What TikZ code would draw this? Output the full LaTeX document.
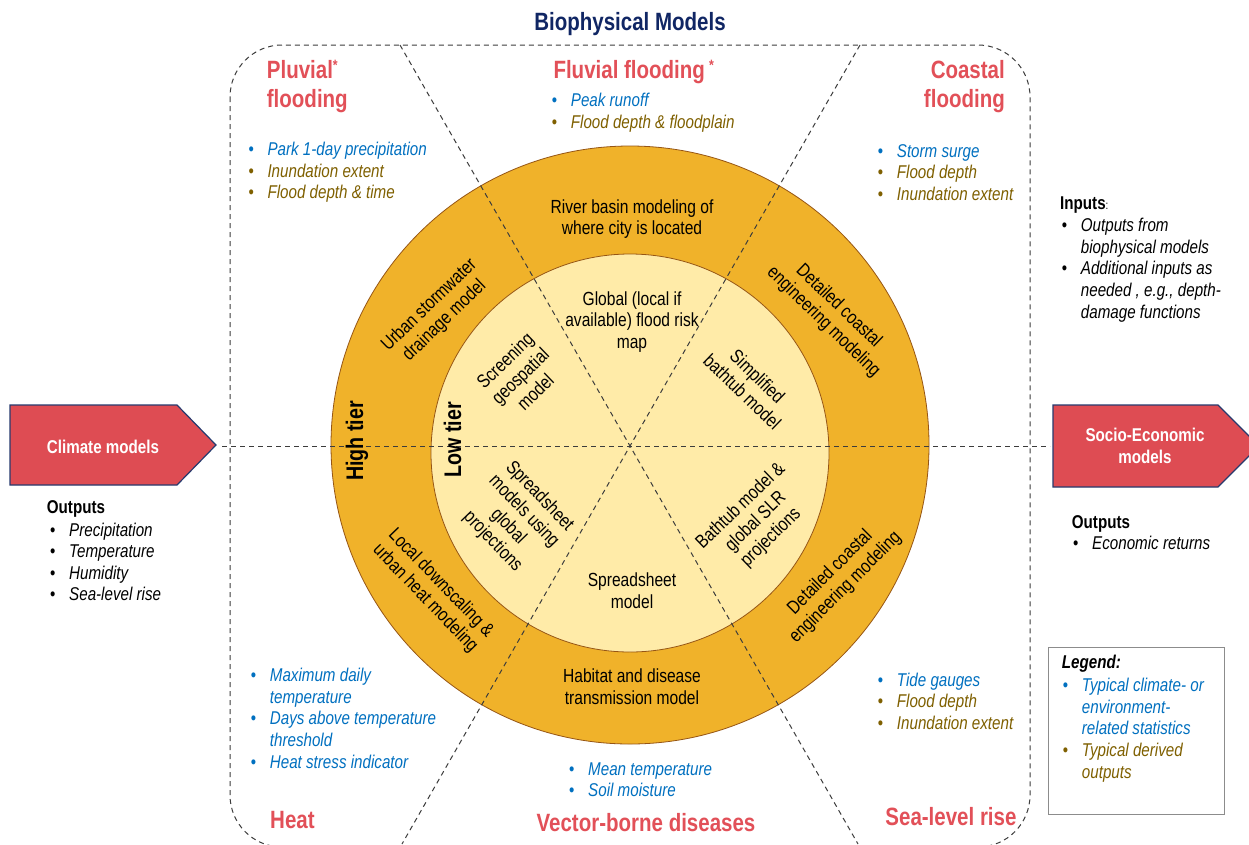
\documentclass[tikz,border=0pt]{standalone}
\usepackage{fontspec}
\setmainfont{Liberation Sans}[FakeStretch=0.82]
\definecolor{navyt}{RGB}{16,38,100}
\definecolor{redt}{RGB}{226,80,88}
\definecolor{redf}{RGB}{222,76,83}
\definecolor{navyb}{RGB}{38,58,110}
\definecolor{bluet}{RGB}{0,112,192}
\definecolor{olivet}{RGB}{127,96,0}
\definecolor{orng}{RGB}{240,178,42}
\definecolor{lite}{RGB}{255,235,168}
\definecolor{brwn}{RGB}{150,85,20}
\definecolor{dgray}{RGB}{60,60,60}
\definecolor{lgray}{RGB}{140,140,140}
\newcommand\lbu[2]{\textcolor{#1}{\textbullet}&\textcolor{#1}{\itshape #2}}
\newcommand\lct[2]{&\textcolor{#1}{\itshape #2}}
\newcommand\blst[1]{\begin{tabular}[t]{@{}p{19pt}@{}l@{}}#1\end{tabular}}
\begin{document}
\begin{tikzpicture}[x=1pt,y=-1pt,
  dashln/.style={draw=dgray, line width=1pt, dash pattern=on 5pt off 4pt},
  ttl/.style={font=\fontsize{25}{28}\selectfont\bfseries, text=redt, inner sep=0pt},
  ctext/.style={font=\fontsize{19}{21.7}\selectfont, align=center, inner sep=0pt},
  lst/.style={anchor=base west, inner sep=0pt, font=\fontsize{18.5}{21.6}\selectfont},
  hdr/.style={anchor=base west, inner sep=0pt, font=\fontsize{18.5}{21.6}\selectfont\bfseries},
  arr/.style={fill=redf, draw=navyb, line width=1.2pt},
  tier/.style={font=\fontsize{24}{26}\selectfont\bfseries, rotate=90, inner sep=0pt},
]
\useasboundingbox (0,0) rectangle (1249,844);
\fill[white] (0,0) rectangle (1249,844);

% dashed frame
\draw[dashln, rounded corners=52pt] (230,45) rectangle (1030,847);

% circles
\node[circle, minimum size=598pt, inner sep=0pt, fill=orng, draw=brwn, line width=0.8pt] (outer) at (630,445) {};
\node[circle, minimum size=398pt, inner sep=0pt, fill=lite, draw=brwn, line width=0.8pt] (inner) at (630,453) {};

% dashed dividers
\coordinate (cx) at (630,446);
\coordinate (dTL) at (400,45);
\coordinate (dTR) at (860,45);
\coordinate (dBL) at (402,844);
\coordinate (dBR) at (858,844);
\coordinate (hL) at (222,446);
\coordinate (hR) at (1050,446);
\draw[dashln] (dTL) -- (cx) -- (dBR);
\draw[dashln] (dTR) -- (cx) -- (dBL);
\draw[dashln] (hL) -- (cx) -- (hR);

% title
\node[font=\fontsize{25}{28}\selectfont\bfseries, text=navyt, inner sep=0pt, anchor=base] (title) at (630,30) {Biophysical Models};

% section titles
\node[ttl, anchor=base west] (pluv1) at (266.7,78.3) {Pluvial\raisebox{8pt}{\fontsize{15}{15}\selectfont *}};
\node[ttl, anchor=base west] (pluv2) at (266.7,107.5) {flooding};
\node[ttl, anchor=base west] (fluv) at (553.3,78.3) {Fluvial flooding\,\raisebox{8pt}{\fontsize{15}{15}\selectfont *}};
\node[ttl, anchor=base east] (coast1) at (1005,78.3) {Coastal};
\node[ttl, anchor=base east] (coast2) at (1005,107.5) {flooding};
\node[ttl, anchor=base west] (heat) at (270,828.3) {Heat};
\node[ttl, anchor=base] (vector) at (646,831.7) {Vector-borne diseases};
\node[ttl, anchor=base east] (slr) at (1016.7,825) {Sea-level rise};

% bullet lists
\node[lst] (lpluv) at (248.3,155.5) {\blst{\lbu{bluet}{Park 1-day precipitation}\\ \lbu{olivet}{Inundation extent}\\ \lbu{olivet}{Flood depth \& time}}};
\node[lst] (lfluv) at (551.7,106.7) {\blst{\lbu{bluet}{Peak runoff}\\ \lbu{olivet}{Flood depth \& floodplain}}};
\node[lst] (lcoast) at (877.7,157) {\blst{\lbu{bluet}{Storm surge}\\ \lbu{olivet}{Flood depth}\\ \lbu{olivet}{Inundation extent}}};
\node[lst] (lheat) at (250.7,681.7) {\blst{\lbu{bluet}{Maximum daily}\\ \lct{bluet}{temperature}\\ \lbu{bluet}{Days above temperature}\\ \lct{bluet}{threshold}\\ \lbu{bluet}{Heat stress indicator}}};
\node[lst] (lvec) at (569,775) {\blst{\lbu{bluet}{Mean temperature}\\ \lbu{bluet}{Soil moisture}}};
\node[lst] (lslr) at (877.7,686) {\blst{\lbu{bluet}{Tide gauges}\\ \lbu{olivet}{Flood depth}\\ \lbu{olivet}{Inundation extent}}};

% ring texts
\node[ctext] (river) at (632,219) {River basin modeling of\\where city is located};
\node[ctext, rotate=44] (urban) at (437,313) {Urban stormwater\\drainage model};
\node[ctext, rotate=-44] (detU) at (831,314) {Detailed coastal\\engineering modeling};
\node[ctext, rotate=-46] (local) at (433,591) {Local downscaling \&\\urban heat modeling};
\node[ctext, rotate=45] (detL) at (838,580) {Detailed coastal\\engineering modeling};
\node[ctext] (habitat) at (632,687) {Habitat and disease\\transmission model};
\node[tier] (high) at (357,441) {High tier};

% inner texts
\node[ctext] (global) at (632,322) {Global (local if\\available) flood risk\\map};
\node[ctext, rotate=44] (screen) at (520,376) {Screening\\geospatial\\model};
\node[ctext, rotate=-44] (simpl) at (750,384) {Simplified\\bathtub model};
\node[ctext, rotate=-46] (sprd) at (516,519) {Spreadsheet\\models using\\global\\projections};
\node[ctext, rotate=44] (bath) at (756,522) {Bathtub model \&\\global SLR\\projections};
\node[ctext] (sprd2) at (632,591) {Spreadsheet\\model};
\node[tier] (low) at (452.5,440) {Low tier};

% climate arrow
\coordinate (ca1) at (10,405);
\coordinate (ca2) at (177,405);
\coordinate (ca3) at (216,445);
\coordinate (ca4) at (177,485);
\coordinate (ca5) at (10,485);
\draw[arr] (ca1) -- (ca2) -- (ca3) -- (ca4) -- (ca5) -- cycle;
\node[font=\fontsize{18.5}{21}\selectfont\bfseries, text=white, inner sep=0pt] (clim) at (103,446.5) {Climate models};
\node[hdr] (cout) at (46.7,513) {Outputs};
\node[lst] (lclim) at (50,536) {\blst{\lbu{black}{Precipitation}\\ \lbu{black}{Temperature}\\ \lbu{black}{Humidity}\\ \lbu{black}{Sea-level rise}}};

% socio-economic arrow
\coordinate (sa1) at (1053,405);
\coordinate (sa2) at (1218,405);
\coordinate (sa3) at (1259,446);
\coordinate (sa4) at (1218,487);
\coordinate (sa5) at (1053,487);
\draw[arr] (sa1) -- (sa2) -- (sa3) -- (sa4) -- (sa5) -- cycle;
\node[font=\fontsize{18.5}{21.7}\selectfont\bfseries, text=white, inner sep=0pt, align=center] (socio) at (1145,446) {Socio-Economic\\models};
\node[hdr] (sout) at (1071.7,528.3) {Outputs};
\node[lst] (lsoc) at (1073,549.3) {\blst{\lbu{black}{Economic returns}}};

% inputs
\node[hdr] (inputs) at (1060,209.3) {Inputs{\mdseries\fontsize{12}{12}\selectfont:}};
\node[lst] (linp) at (1061.7,231.7) {\blst{\lbu{black}{Outputs from}\\ \lct{black}{biophysical models}\\ \lbu{black}{Additional inputs as}\\ \lct{black}{needed , e.g., depth-}\\ \lct{black}{damage functions}}};

% legend
\node[draw=lgray, line width=1pt, minimum width=176pt, minimum height=167pt, anchor=north west, inner sep=0pt] (legbox) at (1048,647) {};
\node[hdr] (legt) at (1061.7,668.3) {\itshape Legend:};
\node[lst] (lleg) at (1062.7,691.7) {\blst{\lbu{bluet}{Typical climate- or}\\ \lct{bluet}{environment-}\\ \lct{bluet}{related statistics}\\ \lbu{olivet}{Typical derived}\\ \lct{olivet}{outputs}}};
\end{tikzpicture}
\end{document}
